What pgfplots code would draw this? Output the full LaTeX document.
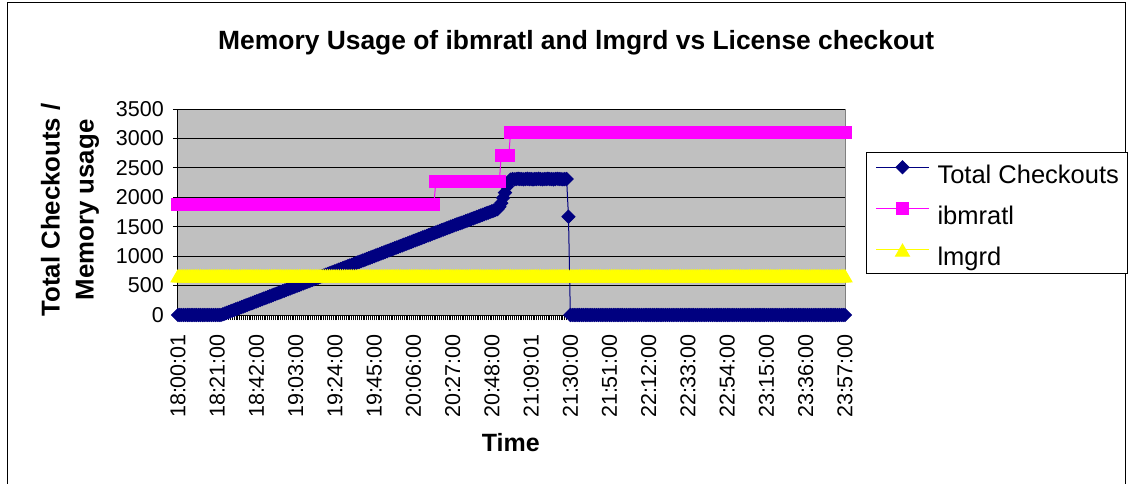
\documentclass[border=0pt]{standalone}
\usepackage{pgfplots}
\pgfplotsset{compat=1.18}
\usepackage{pgfplotstable}
\usepackage{fontspec}
\setmainfont{Liberation Sans}
\definecolor{xnavy}{HTML}{000080}
\definecolor{xmag}{HTML}{FF00FF}
\definecolor{xyel}{HTML}{FFFF00}
\definecolor{xbg}{HTML}{C0C0C0}
\definecolor{xgray}{HTML}{808080}

\pgfplotstableread{
t tot ibm lm
0 0 1885 670
1 0 1885 670
2 0 1885 670
3 0 1885 670
4 0 1885 670
5 0 1885 670
6 0 1885 670
7 0 1885 670
8 0 1885 670
9 0 1885 670
10 0 1885 670
11 0 1885 670
12 0 1885 670
13 0 1885 670
14 0 1885 670
15 0 1885 670
16 0 1885 670
17 0 1885 670
18 0 1885 670
19 0 1885 670
20 0 1885 670
21 0 1885 670
22 0 1885 670
23 0 1885 670
24 12 1885 670
25 24 1885 670
26 37 1885 670
27 49 1885 670
28 61 1885 670
29 73 1885 670
30 85 1885 670
31 98 1885 670
32 110 1885 670
33 122 1885 670
34 134 1885 670
35 146 1885 670
36 159 1885 670
37 171 1885 670
38 183 1885 670
39 195 1885 670
40 207 1885 670
41 220 1885 670
42 232 1885 670
43 244 1885 670
44 256 1885 670
45 268 1885 670
46 281 1885 670
47 293 1885 670
48 305 1885 670
49 317 1885 670
50 329 1885 670
51 342 1885 670
52 354 1885 670
53 366 1885 670
54 378 1885 670
55 390 1885 670
56 403 1885 670
57 415 1885 670
58 427 1885 670
59 439 1885 670
60 451 1885 670
61 464 1885 670
62 476 1885 670
63 488 1885 670
64 500 1885 670
65 512 1885 670
66 525 1885 670
67 537 1885 670
68 549 1885 670
69 561 1885 670
70 573 1885 670
71 586 1885 670
72 598 1885 670
73 610 1885 670
74 622 1885 670
75 634 1885 670
76 647 1885 670
77 659 1885 670
78 671 1885 670
79 683 1885 670
80 695 1885 670
81 708 1885 670
82 720 1885 670
83 732 1885 670
84 744 1885 670
85 756 1885 670
86 769 1885 670
87 781 1885 670
88 793 1885 670
89 805 1885 670
90 817 1885 670
91 830 1885 670
92 842 1885 670
93 854 1885 670
94 866 1885 670
95 878 1885 670
96 891 1885 670
97 903 1885 670
98 915 1885 670
99 927 1885 670
100 939 1885 670
101 952 1885 670
102 964 1885 670
103 976 1885 670
104 988 1885 670
105 1000 1885 670
106 1013 1885 670
107 1025 1885 670
108 1037 1885 670
109 1049 1885 670
110 1061 1885 670
111 1074 1885 670
112 1086 1885 670
113 1098 1885 670
114 1110 1885 670
115 1122 1885 670
116 1135 1885 670
117 1147 1885 670
118 1159 1885 670
119 1171 1885 670
120 1183 1885 670
121 1196 1885 670
122 1208 1885 670
123 1220 1885 670
124 1232 1885 670
125 1244 1885 670
126 1257 1885 670
127 1269 1885 670
128 1281 1885 670
129 1293 1885 670
130 1305 1885 670
131 1318 1885 670
132 1330 1885 670
133 1342 1885 670
134 1354 1885 670
135 1366 1885 670
136 1379 1885 670
137 1391 1885 670
138 1403 2275 670
139 1415 2275 670
140 1427 2275 670
141 1440 2275 670
142 1452 2275 670
143 1464 2275 670
144 1476 2275 670
145 1488 2275 670
146 1501 2275 670
147 1513 2275 670
148 1525 2275 670
149 1537 2275 670
150 1549 2275 670
151 1560 2275 670
152 1570 2275 670
153 1582 2275 670
154 1594 2275 670
155 1606 2275 670
156 1618 2275 670
157 1630 2275 670
158 1642 2275 670
159 1654 2275 670
160 1666 2275 670
161 1678 2275 670
162 1690 2275 670
163 1702 2275 670
164 1714 2275 670
165 1726 2275 670
166 1738 2275 670
167 1750 2275 670
168 1762 2275 670
169 1774 2275 670
170 1786 2275 670
171 1800 2275 670
172 1840 2275 670
173 1900 2705 670
174 1990 2705 670
175 2080 2705 670
176 2180 2705 670
177 2260 2705 670
178 2300 3100 670
179 2310 3100 670
180 2305 3100 670
181 2310 3100 670
182 2315 3100 670
183 2310 3100 670
184 2310 3100 670
185 2305 3100 670
186 2310 3100 670
187 2315 3100 670
188 2310 3100 670
189 2310 3100 670
190 2305 3100 670
191 2310 3100 670
192 2310 3100 670
193 2315 3100 670
194 2310 3100 670
195 2305 3100 670
196 2310 3100 670
197 2310 3100 670
198 2315 3100 670
199 2310 3100 670
200 2310 3100 670
201 2305 3100 670
202 2310 3100 670
203 2315 3100 670
204 2310 3100 670
205 2310 3100 670
206 2305 3100 670
207 2310 3100 670
208 2310 3100 670
209 1670 3100 670
210 0 3100 670
211 0 3100 670
212 0 3100 670
213 0 3100 670
214 0 3100 670
215 0 3100 670
216 0 3100 670
217 0 3100 670
218 0 3100 670
219 0 3100 670
220 0 3100 670
221 0 3100 670
222 0 3100 670
223 0 3100 670
224 0 3100 670
225 0 3100 670
226 0 3100 670
227 0 3100 670
228 0 3100 670
229 0 3100 670
230 0 3100 670
231 0 3100 670
232 0 3100 670
233 0 3100 670
234 0 3100 670
235 0 3100 670
236 0 3100 670
237 0 3100 670
238 0 3100 670
239 0 3100 670
240 0 3100 670
241 0 3100 670
242 0 3100 670
243 0 3100 670
244 0 3100 670
245 0 3100 670
246 0 3100 670
247 0 3100 670
248 0 3100 670
249 0 3100 670
250 0 3100 670
251 0 3100 670
252 0 3100 670
253 0 3100 670
254 0 3100 670
255 0 3100 670
256 0 3100 670
257 0 3100 670
258 0 3100 670
259 0 3100 670
260 0 3100 670
261 0 3100 670
262 0 3100 670
263 0 3100 670
264 0 3100 670
265 0 3100 670
266 0 3100 670
267 0 3100 670
268 0 3100 670
269 0 3100 670
270 0 3100 670
271 0 3100 670
272 0 3100 670
273 0 3100 670
274 0 3100 670
275 0 3100 670
276 0 3100 670
277 0 3100 670
278 0 3100 670
279 0 3100 670
280 0 3100 670
281 0 3100 670
282 0 3100 670
283 0 3100 670
284 0 3100 670
285 0 3100 670
286 0 3100 670
287 0 3100 670
288 0 3100 670
289 0 3100 670
290 0 3100 670
291 0 3100 670
292 0 3100 670
293 0 3100 670
294 0 3100 670
295 0 3100 670
296 0 3100 670
297 0 3100 670
298 0 3100 670
299 0 3100 670
300 0 3100 670
301 0 3100 670
302 0 3100 670
303 0 3100 670
304 0 3100 670
305 0 3100 670
306 0 3100 670
307 0 3100 670
308 0 3100 670
309 0 3100 670
310 0 3100 670
311 0 3100 670
312 0 3100 670
313 0 3100 670
314 0 3100 670
315 0 3100 670
316 0 3100 670
317 0 3100 670
318 0 3100 670
319 0 3100 670
320 0 3100 670
321 0 3100 670
322 0 3100 670
323 0 3100 670
324 0 3100 670
325 0 3100 670
326 0 3100 670
327 0 3100 670
328 0 3100 670
329 0 3100 670
330 0 3100 670
331 0 3100 670
332 0 3100 670
333 0 3100 670
334 0 3100 670
335 0 3100 670
336 0 3100 670
337 0 3100 670
338 0 3100 670
339 0 3100 670
340 0 3100 670
341 0 3100 670
342 0 3100 670
343 0 3100 670
344 0 3100 670
345 0 3100 670
346 0 3100 670
347 0 3100 670
348 0 3100 670
349 0 3100 670
350 0 3100 670
351 0 3100 670
352 0 3100 670
353 0 3100 670
354 0 3100 670
355 0 3100 670
356 0 3100 670
357 0 3100 670
}\datatable

\begin{document}
\begin{tikzpicture}
\useasboundingbox (-178bp,-169bp) rectangle (950bp,315bp);
\draw[black, line width=1.2bp] (-170.5bp,-200bp) rectangle (947.5bp,312.5bp);
\begin{axis}[
  at={(0,0)}, anchor=south west,
  scale only axis, width=667bp, height=206bp,
  xmin=0, xmax=357, ymin=0, ymax=3500,
  clip=false,
  axis background/.style={fill=xbg, draw=xgray, line width=1bp},
  axis x line*=bottom, axis y line*=left,
  axis line style={black, line width=1bp, -},
  ytick={0,500,...,3500},
  scaled y ticks=false,
  /pgf/number format/assume math mode=true,
  /pgf/number format/1000 sep={},
  ymajorgrids, grid style={black, line width=0.8bp},
  xtick={0,21,...,357},
  xticklabels={18:00:01,18:21:00,18:42:00,19:03:00,19:24:00,19:45:00,20:06:00,20:27:00,20:48:00,21:09:01,21:30:00,21:51:00,22:12:00,22:33:00,22:54:00,23:15:00,23:36:00,23:57:00},
  minor xtick={0,1,...,357},
  tick align=outside,
  major tick length=5bp, minor tick length=5bp,
  every tick/.style={black, line width=0.8bp},
  every minor tick/.style={black, line width=0.8bp},
  xticklabel shift=14bp,
  yticklabel shift=9bp,
  xticklabel style={rotate=90, anchor=east, inner sep=0pt, font=\fontsize{21.5bp}{26bp}\selectfont},
  yticklabel style={anchor=east, inner sep=0pt, font=\fontsize{21.5bp}{26bp}\selectfont},
  title={Memory Usage of ibmratl and lmgrd vs License checkout},
  title style={at={(axis description cs:0.597,1.291)}, anchor=center, font=\fontsize{26.4bp}{30bp}\selectfont\bfseries},
  xlabel={Time},
  xlabel style={at={(axis description cs:0.499,-0.617)}, anchor=center, font=\fontsize{25bp}{30bp}\selectfont\bfseries},
  ylabel={Total Checkouts /\\Memory usage},
  ylabel style={at={(axis description cs:-0.1620,0.51)}, anchor=center, align=center, font=\fontsize{25.8bp}{34bp}\selectfont\bfseries},
  legend style={at={(axis description cs:1.0315,0.790)}, anchor=north west, draw=black, line width=1bp, fill=white,
    font=\fontsize{25.5bp}{30bp}\selectfont, inner xsep=9bp, inner ysep=8bp, row sep=19.5bp,
    nodes={inner sep=0pt, text height=18.5bp, text depth=0bp}},
  legend cell align=left,
  legend image code/.code={\draw[mark repeat=2, mark phase=2, #1] plot coordinates {(0bp,6.7bp) (26.5bp,6.7bp) (53bp,6.7bp)}; \path (61bp,6.7bp);},
]
\addplot[color=xnavy, line width=1bp, mark=square*, mark size=4.6bp, mark options={rotate=45, fill=xnavy, draw=xnavy}] table[x=t,y=tot]{\datatable};
\addlegendentry{Total Checkouts}
\addplot[color=xmag, line width=1bp, mark=square*, mark size=6bp, mark options={fill=xmag, draw=xmag}] table[x=t,y=ibm]{\datatable};
\addlegendentry{ibmratl}
\addplot[color=xyel, line width=1bp, mark=triangle*, mark size=8bp, mark options={fill=xyel, draw=xyel, yshift=-2.3bp}] table[x=t,y=lm]{\datatable};
\addlegendentry{lmgrd}
\end{axis}
\end{tikzpicture}
\end{document}
